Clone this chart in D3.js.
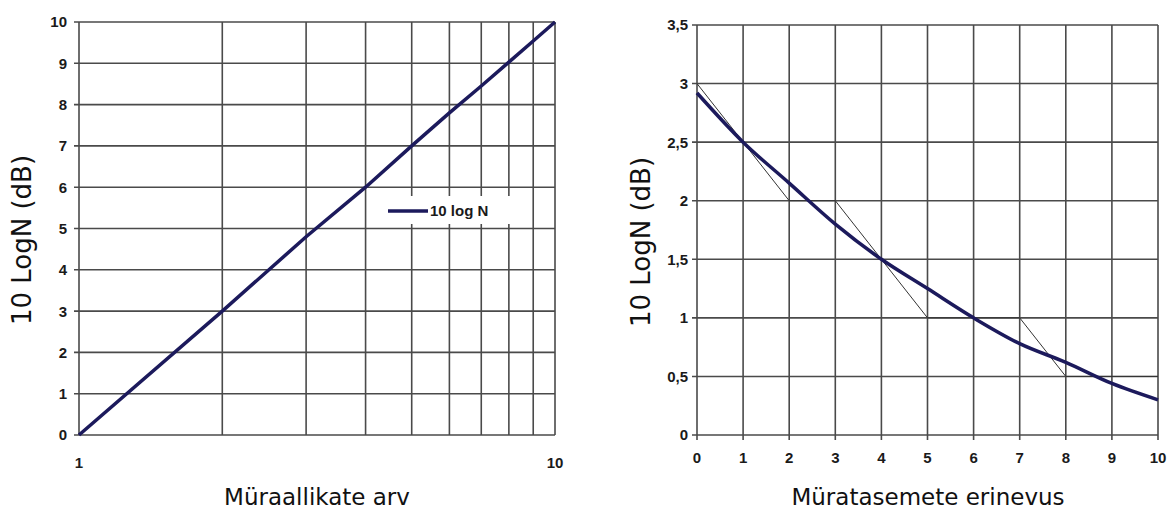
<!DOCTYPE html>
<html>
<head>
<meta charset="utf-8">
<script src="https://cdn.jsdelivr.net/npm/d3@7"></script>
<style>
  body { margin: 0; background: #fff; }
  svg text { fill: #1a1a1a; }
  .tick-lbl { font-family: "Liberation Sans", Arial, sans-serif; font-weight: bold; font-size: 15px; }
  .title { font-family: "DejaVu Sans", Verdana, sans-serif; fill: #111; }
</style>
</head>
<body>
<div id="chart"></div>
<script>
// left chart: 10 log N against number of sources
var sourceCount = [1, 2, 3, 4, 5, 6, 7, 8, 9, 10];
var sourceDb = [0, 3, 4.8, 6, 7, 7.8, 8.45, 9.03, 9.54, 10];
var leftYTicks = [0, 1, 2, 3, 4, 5, 6, 7, 8, 9, 10];
var leftXLabels = [1, 10];

// right chart: addition vs level difference
var levelDiff = [0, 1, 2, 3, 4, 5, 6, 7, 8, 9, 10];
var addDb = [2.92, 2.5, 2.15, 1.8, 1.5, 1.25, 1.0, 0.78, 0.62, 0.44, 0.3];
var stepDiff = [0, 2, 3, 5, 7, 8, 10];
var stepDb = [3, 2, 2, 1, 1, 0.5, 0.5];
var rightYTicks = [0, 0.5, 1, 1.5, 2, 2.5, 3, 3.5];

var W = 1168, H = 510;
var gridCol = "#4a4a4a";
var lineCol = "#1c1a5c";

var svg = d3.select("#chart").append("svg")
    .attr("width", W)
    .attr("height", H)

var fmt = function(v){ return String(v).replace(".", ","); }

// ---------- left ----------
var x1 = d3.scaleLog().domain([1, 10]).range([79, 555]);
var y1 = d3.scaleLinear().domain([0, 10]).range([435, 22]);

var g1 = svg.append("g");

g1.selectAll("line.vg")
    .data(sourceCount)
    .enter()
    .append("line")
    .attr("x1", d => x1(d)).attr("x2", d => x1(d))
    .attr("y1", y1(10)).attr("y2", y1(0))
    .style("stroke", gridCol)
    .style("stroke-width", 1.6)

g1.selectAll("line.hg")
    .data(leftYTicks)
    .enter()
    .append("line")
    .attr("x1", x1(1) - 5).attr("x2", x1(10))
    .attr("y1", d => y1(d)).attr("y2", d => y1(d))
    .style("stroke", gridCol)
    .style("stroke-width", 1.6)

g1.selectAll("text.yl")
    .data(leftYTicks)
    .enter()
    .append("text")
    .attr("class", "tick-lbl")
    .attr("x", 67)
    .attr("y", d => y1(d))
    .attr("dy", "0.36em")
    .attr("text-anchor", "end")
    .text(d => d)

g1.selectAll("text.xl")
    .data(leftXLabels)
    .enter()
    .append("text")
    .attr("class", "tick-lbl")
    .attr("x", d => x1(d))
    .attr("y", 463)
    .attr("dy", "0.36em")
    .attr("text-anchor", "middle")
    .text(d => d)

g1.append("path")
    .datum(sourceCount.map((n, i) => [n, sourceDb[i]]))
    .attr("d", d3.line().x(d => x1(d[0])).y(d => y1(d[1])))
    .style("fill", "none")
    .style("stroke", lineCol)
    .style("stroke-width", 3.5)

// legend
g1.append("rect")
    .attr("x", 370).attr("y", 196)
    .attr("width", 150).attr("height", 28)
    .style("fill", "#fff")
g1.append("line")
    .attr("x1", 388).attr("x2", 428)
    .attr("y1", 211).attr("y2", 211)
    .style("stroke", lineCol)
    .style("stroke-width", 3.5)
g1.append("text")
    .attr("class", "tick-lbl")
    .attr("x", 430).attr("y", 211)
    .attr("dy", "0.36em")
    .text("10 log N")

g1.append("text")
    .attr("class", "title")
    .attr("transform", "translate(31,240) rotate(-90)")
    .attr("text-anchor", "middle")
    .style("font-size", "26px")
    .text("10 LogN (dB)")

g1.append("text")
    .attr("class", "title")
    .attr("x", 317).attr("y", 505)
    .attr("text-anchor", "middle")
    .style("font-size", "23px")
    .text("Müraallikate arv")

// ---------- right ----------
var x2 = d3.scaleLinear().domain([0, 10]).range([697, 1158]);
var y2 = d3.scaleLinear().domain([0, 3.5]).range([435, 25]);

var g2 = svg.append("g");

g2.selectAll("line.vg")
    .data(levelDiff)
    .enter()
    .append("line")
    .attr("x1", d => x2(d)).attr("x2", d => x2(d))
    .attr("y1", y2(3.5)).attr("y2", y2(0) + 5)
    .style("stroke", gridCol)
    .style("stroke-width", 1.6)

g2.selectAll("line.hg")
    .data(rightYTicks)
    .enter()
    .append("line")
    .attr("x1", x2(0) - 5).attr("x2", x2(10))
    .attr("y1", d => y2(d)).attr("y2", d => y2(d))
    .style("stroke", gridCol)
    .style("stroke-width", 1.6)

g2.selectAll("text.yl")
    .data(rightYTicks)
    .enter()
    .append("text")
    .attr("class", "tick-lbl")
    .attr("x", 688)
    .attr("y", d => y2(d))
    .attr("dy", "0.36em")
    .attr("text-anchor", "end")
    .text(d => fmt(d))

g2.selectAll("text.xl")
    .data(levelDiff)
    .enter()
    .append("text")
    .attr("class", "tick-lbl")
    .attr("x", d => x2(d))
    .attr("y", 458)
    .attr("dy", "0.36em")
    .attr("text-anchor", "middle")
    .text(d => d)

// thin rule-of-thumb steps
g2.append("path")
    .datum(stepDiff.map((v, i) => [v, stepDb[i]]))
    .attr("d", d3.line().x(d => x2(d[0])).y(d => y2(d[1])))
    .style("fill", "none")
    .style("stroke", "#333")
    .style("stroke-width", 1)

g2.append("path")
    .datum(levelDiff.map((v, i) => [v, addDb[i]]))
    .attr("d", d3.line().curve(d3.curveMonotoneX).x(d => x2(d[0])).y(d => y2(d[1])))
    .style("fill", "none")
    .style("stroke", lineCol)
    .style("stroke-width", 3.5)

g2.append("text")
    .attr("class", "title")
    .attr("transform", "translate(650,242) rotate(-90)")
    .attr("text-anchor", "middle")
    .style("font-size", "26px")
    .text("10 LogN (dB)")

g2.append("text")
    .attr("class", "title")
    .attr("x", 928).attr("y", 505)
    .attr("text-anchor", "middle")
    .style("font-size", "23px")
    .text("Müratasemete erinevus")
</script>
</body>
</html>
